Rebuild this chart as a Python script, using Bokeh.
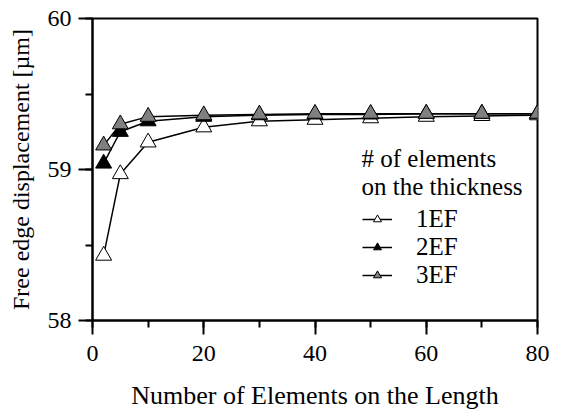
from bokeh.plotting import figure
from bokeh.models import Range1d, SingleIntervalTicker, Legend, LegendItem, Label
from bokeh.embed import file_html
from bokeh.resources import INLINE

x_vals = [2, 5, 10, 20, 30, 40, 50, 60, 70, 80]
ef1 = [58.43, 58.97, 59.18, 59.28, 59.32, 59.33, 59.34, 59.35, 59.355, 59.36]
ef2 = [59.04, 59.25, 59.32, 59.35, 59.36, 59.365, 59.365, 59.37, 59.37, 59.37]
ef3 = [59.16, 59.30, 59.35, 59.36, 59.365, 59.37, 59.37, 59.37, 59.37, 59.37]
series_names = ["1EF", "2EF", "3EF"]
series_fill = ["white", "black", "#808080"]
legend_title = ["# of elements", "on the thickness"]

FONT = "Liberation Serif"

p = figure(width=563, height=415, output_backend="svg", toolbar_location=None,
           x_range=Range1d(0, 80), y_range=Range1d(58, 60),
           min_border_left=92, min_border_right=26, min_border_top=18, min_border_bottom=95)
p.background_fill_color = "white"
p.border_fill_color = "white"
p.grid.visible = False
p.outline_line_color = "black"
p.outline_line_width = 2

p.xaxis.ticker = SingleIntervalTicker(interval=20, num_minor_ticks=2)
p.yaxis.ticker = SingleIntervalTicker(interval=1, num_minor_ticks=2)
for ax in (p.xaxis[0], p.yaxis[0]):
    ax.axis_line_width = 2
    ax.major_tick_line_width = 2
    ax.minor_tick_line_width = 2
    ax.major_tick_in = 0
    ax.major_tick_out = 14
    ax.minor_tick_in = 0
    ax.minor_tick_out = 7
    ax.major_label_text_font = FONT
    ax.major_label_text_font_size = "24px"
    ax.major_label_text_color = "black"
    ax.axis_label_text_font = FONT
    ax.axis_label_text_font_style = "normal"
    ax.axis_label_text_color = "black"
p.xaxis.axis_label = "Number of Elements on the Length"
p.yaxis.axis_label = "Free edge displacement [\u00b5m]"
p.xaxis.axis_label_text_font_size = "26px"
p.yaxis.axis_label_text_font_size = "24px"
p.xaxis.major_label_standoff = 11
p.xaxis.axis_label_standoff = 17
p.yaxis.major_label_standoff = 7
p.yaxis.axis_label_standoff = 11

items = []
for name, ys, fill in zip(series_names, [ef1, ef2, ef3], series_fill):
    l = p.line(x_vals, ys, line_color="black", line_width=1.5)
    s = p.scatter(x_vals, ys, marker="triangle", size=16, fill_color=fill,
                  line_color="black", line_width=1)
    items.append(LegendItem(label=name, renderers=[l, s]))

legend = Legend(items=items, location=(266, 27), orientation="vertical",
                label_text_font=FONT, label_text_font_size="25px",
                label_text_color="black", glyph_width=30, glyph_height=20,
                spacing=-5, label_standoff=24, border_line_alpha=0,
                background_fill_alpha=0, padding=4, margin=0)
p.add_layout(legend, "center")

for i, t in enumerate(legend_title):
    p.add_layout(Label(x=269, y=162 - i * 28, x_units="screen", y_units="screen",
                       text=t, text_font=FONT, text_font_size="25px",
                       text_baseline="middle", text_color="black"))

open("out.html", "w").write(file_html(p, INLINE))
